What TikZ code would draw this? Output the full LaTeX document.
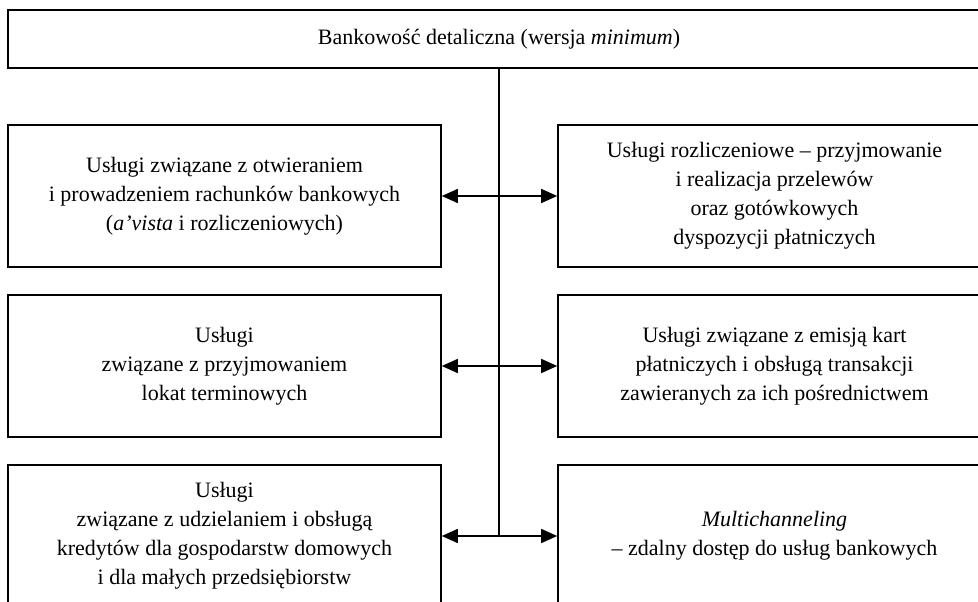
\documentclass[tikz,border=0pt]{standalone}
\usepackage{fontspec}
\setmainfont{Liberation Serif}
\usetikzlibrary{arrows.meta}
\begin{document}
\begin{tikzpicture}[x=1pt,y=-1pt]
		\tikzstyle{every node}=[font=\fontsize{22pt}{29pt}\selectfont]
		\tikzstyle{box}=[draw, line width=1.6pt, align=center, inner sep=0pt, minimum width=433pt, minimum height=142pt]
		\tikzstyle{link}=[line width=1.6pt, -{Triangle[length=16pt,width=14pt]}]
		
		\clip (0,0) rectangle (978,602);
		
		\node[box, minimum width=982pt, minimum height=58pt] (hdr) at (499,39) {Bankowość detaliczna (wersja \textit{minimum})};
		
		\node[box] (l1) at (224.5,196) {Usługi związane z otwieraniem\\i prowadzeniem rachunków bankowych\\(\textit{a'vista} i rozliczeniowych)};
		\node[box] (r1) at (774.5,196) {Usługi rozliczeniowe – przyjmowanie\\i realizacja przelewów\\oraz gotówkowych\\dyspozycji płatniczych};
		
		\node[box] (l2) at (224.5,366) {Usługi\\związane z przyjmowaniem\\lokat terminowych};
		\node[box] (r2) at (774.5,366) {Usługi związane z emisją kart\\płatniczych i obsługą transakcji\\zawieranych za ich pośrednictwem};
		
		\node[box] (l3) at (224.5,536) {Usługi\\związane z udzielaniem i obsługą\\kredytów dla gospodarstw domowych\\i dla małych przedsiębiorstw};
		\node[box] (r3) at (774.5,536) {\textit{Multichanneling}\\– zdalny dostęp do usług bankowych};
		
		\coordinate (j1) at (499,196);
		\coordinate (j2) at (499,366);
		\coordinate (j3) at (499,536);
		
		\draw[line width=1.6pt] (hdr.south) -- (j3);
		
		\draw[link] (j1) -- (l1.east);
		\draw[link] (j1) -- (r1.west);
		\draw[link] (j2) -- (l2.east);
		\draw[link] (j2) -- (r2.west);
		\draw[link] (j3) -- (l3.east);
		\draw[link] (j3) -- (r3.west);
		
	\end{tikzpicture}
\end{document}
